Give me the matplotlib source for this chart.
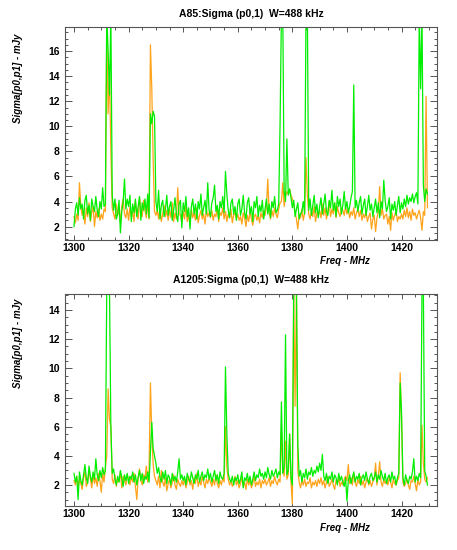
import numpy as np
import matplotlib
matplotlib.use("Agg")
import matplotlib.pyplot as plt
from matplotlib.ticker import MultipleLocator

# frequency grid (MHz), 0.5 MHz channels
freq = np.arange(1300.0, 1430.0, 0.5)

# ---- A85 panel ----
a85_green = [
    2.0, 3.4, 3.9, 2.9, 4.3, 3.4, 3.8, 2.6, 4.1, 4.5, 3.0, 3.7, 2.5, 4.2, 3.6, 3.2, 4.4, 3.3, 2.8, 4.0,
    3.4, 5.1, 3.6, 3.8, 19.0, 16.0, 12.5, 19.0, 4.5, 3.3, 4.2, 2.6, 3.0, 4.1, 1.5, 3.2, 4.0, 5.8, 3.4, 4.2,
    3.6, 4.5, 2.4, 3.8, 3.1, 4.2, 2.8, 3.6, 4.4, 2.5, 3.9, 3.3, 4.2, 3.0, 4.6, 2.7, 11.0, 10.2, 11.2, 10.8,
    4.0, 3.2, 4.9, 2.6, 3.7, 4.1, 2.8, 3.4, 4.5, 2.9, 3.6, 4.0, 2.5, 3.3, 4.3, 3.0, 2.4, 3.8, 4.1, 1.9,
    3.9, 3.2, 4.4, 2.8, 3.5, 1.8, 3.6, 4.2, 3.0, 3.8, 2.6, 4.0, 3.4, 4.6, 2.9, 3.5, 4.1, 3.0, 5.5, 3.3,
    2.8, 3.9, 4.3, 5.3, 3.2, 3.7, 2.6, 4.0, 3.5, 4.4, 3.1, 6.4, 4.6, 3.3, 2.7, 3.9, 4.2, 3.0, 3.6, 2.5,
    3.8, 4.2, 2.9, 3.4, 4.5, 3.1, 2.6, 3.9, 4.3, 3.0, 3.6, 2.4, 4.0, 3.5, 4.4, 2.8, 3.7, 3.2, 4.1, 2.6,
    3.4, 4.2, 3.0, 3.8, 2.7, 4.0, 3.5, 4.4, 3.1, 3.3, 3.8, 10.2, 19.0, 19.0, 4.8, 4.0, 9.0, 4.5, 5.0, 4.3,
    3.5, 4.1, 2.8, 3.4, 3.9, 2.6, 3.0, 3.2, 4.0, 3.0, 19.0, 19.0, 3.3, 4.2, 2.9, 3.7, 4.5, 3.1, 3.8, 2.7,
    3.6, 4.3, 3.0, 3.8, 4.6, 3.2, 2.9, 4.1, 3.5, 4.9, 3.3, 3.9, 2.8, 4.4, 3.6, 4.2, 3.0, 3.7, 4.8, 3.4,
    4.0, 3.1, 3.6, 4.3, 4.8, 13.3, 3.5, 4.1, 3.2, 3.9, 4.4, 3.0, 3.7, 4.2, 2.9, 3.6, 4.5, 3.3, 3.8, 2.8,
    3.5, 4.2, 3.1, 3.9, 2.7, 4.0, 3.4, 5.7, 4.1, 3.2, 3.6, 4.3, 2.6, 3.8, 3.3, 4.0, 2.9, 3.7, 4.4, 3.1,
    3.9, 3.4, 4.2, 3.6, 4.5, 3.8, 4.3, 4.0, 4.6, 3.9, 4.4, 4.7, 3.8, 19.0, 13.0, 19.0, 5.3, 4.0, 5.0, 4.6,
]
a85_orange = [
    2.8, 2.3, 3.0, 2.5, 5.5, 3.6, 2.9, 3.3, 2.2, 3.5, 2.8, 3.9, 2.4, 3.1, 3.6, 2.0, 3.2, 2.7, 3.4, 2.5,
    3.0, 2.6, 3.4, 3.2, 17.7, 11.0, 14.2, 8.0, 3.5, 3.0, 2.6, 3.8, 2.9, 3.3, 2.4, 3.6, 4.2, 3.0, 2.7, 3.4,
    2.5, 3.6, 2.8, 3.2, 2.4, 4.0, 3.0, 2.6, 4.3, 3.4, 2.8, 4.1, 3.3, 2.7, 3.9, 2.6, 16.5, 13.0, 7.3, 3.2,
    2.9, 3.3, 2.6, 3.5, 2.4, 3.0, 3.7, 2.8, 3.3, 2.5, 3.4, 2.7, 3.9, 2.4, 3.1, 2.6, 5.1, 3.0, 2.9, 2.3,
    3.2, 2.6, 3.6, 2.4, 3.0, 2.2, 3.4, 2.7, 3.1, 2.5, 3.5, 2.3, 2.9, 3.3, 2.6, 3.0, 2.2, 3.4, 2.8, 3.1,
    2.7, 3.3, 2.5, 3.0, 2.8, 3.6, 2.4, 3.1, 2.9, 3.5, 2.6, 3.2, 2.4, 3.0, 2.7, 3.4, 2.3, 2.9, 3.1, 2.6,
    3.0, 2.5, 2.8, 2.2, 3.1, 2.7, 2.0, 2.9, 2.4, 3.2, 2.6, 2.1, 2.8, 3.0, 2.5, 2.9, 2.3, 3.1, 2.7, 3.3,
    2.9, 3.6, 5.8, 3.1, 2.6, 3.3, 2.8, 3.5, 3.0, 2.7, 3.4, 3.9, 4.0, 5.5, 3.6, 4.4, 4.8, 4.6, 5.0, 4.5,
    4.2, 3.8, 3.2, 2.6, 1.8, 3.0, 2.7, 3.4, 2.5, 3.1, 7.5, 4.5, 3.0, 2.6, 3.3, 2.8, 3.6, 2.4, 3.1, 2.9,
    3.3, 2.7, 3.8, 2.9, 3.5, 2.6, 3.2, 4.0, 2.8, 3.4, 3.0, 3.9, 2.7, 3.6, 3.1, 2.8, 3.5, 3.3, 2.9, 3.6,
    3.0, 3.4, 2.7, 3.2, 2.9, 3.5, 2.6, 3.1, 3.4, 2.8, 3.3, 2.5, 3.0, 2.7, 3.2, 2.4, 2.8, 3.1, 1.8, 2.6,
    2.9, 1.6, 2.7, 3.2, 5.2, 2.9, 3.4, 2.6, 2.9, 3.0, 2.2, 2.8, 1.7, 3.1, 2.5, 2.9, 3.3, 2.4, 2.8, 2.6,
    3.0, 2.6, 3.3, 2.8, 3.5, 2.7, 3.2, 2.5, 3.4, 2.9, 3.1, 2.6, 3.0, 3.3, 2.7, 1.7, 3.2, 2.9, 12.4, 3.5,
]

# ---- A1205 panel ----
a1205_green = [
    2.8, 2.2, 2.6, 1.0, 2.9, 2.3, 2.0, 2.7, 3.4, 2.5, 2.1, 3.3, 2.6, 2.2, 2.9, 2.4, 3.8, 2.7, 2.3, 3.0,
    2.5, 3.2, 2.7, 3.0, 15.5, 15.5, 15.5, 6.0, 2.8, 3.1, 2.4, 2.0, 2.6, 2.2, 3.0, 2.5, 1.9, 2.7, 2.3, 2.8,
    2.1, 2.6, 2.4, 2.9, 2.2, 2.7, 2.0, 2.5, 3.0, 2.3, 2.8, 2.1, 2.6, 2.4, 2.9, 2.2, 4.2, 6.3, 4.5, 4.0,
    3.5, 2.8, 3.2, 2.5, 2.2, 2.9, 2.4, 3.0, 2.1, 2.7, 2.5, 2.0, 2.8, 2.3, 2.6, 2.2, 2.9, 3.8, 2.4, 2.7,
    2.3, 2.6, 2.0, 2.8, 2.4, 2.2, 2.9, 2.5, 2.1, 2.7, 2.4, 3.0, 2.2, 2.6, 2.9, 2.3, 2.7, 2.5, 3.1, 2.4,
    2.8, 2.2, 2.6, 3.0, 2.3, 2.7, 2.1, 2.9, 2.5, 2.4, 2.8, 10.1, 5.5, 2.8, 2.4, 2.2, 2.6, 2.0, 2.5, 2.3,
    2.7, 2.1, 2.4, 2.9, 1.8, 2.5, 2.3, 2.8, 2.2, 2.6, 2.0, 2.4, 2.9, 2.3, 2.7, 2.5, 3.1, 2.6, 2.8, 2.4,
    2.9, 2.5, 3.2, 2.7, 2.4, 3.0, 2.6, 2.8, 3.1, 2.5, 2.9, 2.7, 7.7, 2.8, 3.2, 12.3, 2.7, 3.0, 5.5, 2.5,
    2.0, 15.5, 15.5, 15.5, 4.8, 2.6, 3.0, 2.2, 2.8, 2.5, 3.1, 2.4, 2.9, 2.7, 3.2, 2.6, 3.0, 2.8, 3.3, 2.9,
    3.5, 3.0, 4.1, 2.6, 2.3, 2.8, 2.1, 2.6, 2.4, 2.9, 2.2, 2.7, 2.5, 2.0, 2.8, 2.3, 2.6, 2.2, 1.9, 2.5,
    0.9, 2.3, 2.7, 2.1, 2.5, 2.9, 2.2, 2.6, 2.4, 2.8, 2.0, 2.5, 2.7, 2.3, 2.9, 2.4, 2.1, 2.6, 2.8, 2.3,
    2.5, 2.9, 2.2, 2.7, 2.4, 3.0, 2.6, 2.3, 2.8, 2.1, 2.5, 2.7, 2.2, 2.9, 2.4, 2.6, 2.0, 2.5, 2.8, 9.0,
    7.0, 2.5, 2.0, 2.7, 2.3, 2.1, 2.6, 2.4, 2.9, 3.8, 2.2, 2.6, 2.3, 2.8, 2.5, 15.5, 15.5, 3.0, 2.6, 2.0,
]
a1205_orange = [
    2.3, 2.0, 2.6, 1.8, 2.4, 2.1, 1.7, 2.5, 2.9, 1.9, 2.2, 3.0, 2.4, 1.8, 2.7, 2.1, 2.5, 1.9, 2.8, 2.3,
    1.5, 2.8, 2.2, 3.2, 4.0, 8.6, 6.5, 6.0, 2.4, 2.1, 2.7, 1.9, 2.5, 2.2, 2.9, 1.8, 2.6, 2.3, 2.0, 2.7,
    2.4, 2.0, 2.6, 2.2, 2.8, 1.9, 1.0, 2.5, 3.1, 2.3, 2.0, 2.7, 2.4, 3.3, 2.2, 3.0, 9.0, 5.5, 3.4, 2.6,
    2.3, 2.0, 2.6, 1.8, 3.0, 2.2, 1.9, 2.5, 1.6, 2.1, 2.4, 1.8, 2.2, 2.7, 2.0, 1.7, 2.4, 2.1, 1.9, 2.3,
    2.0, 2.4, 1.8, 2.2, 2.6, 2.0, 2.3, 1.7, 2.5, 2.1, 2.8, 1.9, 2.3, 2.0, 2.6, 2.2, 1.8, 2.4, 2.1, 2.5,
    2.2, 1.9, 2.4, 2.0, 2.7, 2.1, 1.8, 2.3, 2.0, 2.5, 2.2, 6.0, 3.2, 2.4, 2.0, 2.3, 1.9, 2.2, 2.6, 2.0,
    2.3, 1.8, 2.1, 2.5, 1.9, 2.2, 1.7, 2.4, 2.0, 2.3, 1.8, 2.1, 2.6, 1.9, 2.2, 2.0, 2.4, 1.8, 2.3, 2.1,
    2.4, 2.0, 2.2, 2.5, 1.9, 2.3, 2.1, 2.6, 2.2, 2.0, 2.4, 2.2, 5.8, 3.0, 2.6, 5.0, 2.4, 2.7, 5.5, 2.2,
    0.7, 15.5, 7.4, 15.5, 3.0, 2.2, 1.8, 2.3, 2.0, 2.4, 1.9, 2.2, 2.1, 2.5, 1.8, 2.2, 2.0, 2.3, 1.9, 2.4,
    2.1, 2.5, 2.0, 2.3, 1.8, 2.2, 2.6, 1.9, 2.1, 2.4, 2.0, 1.7, 2.3, 2.1, 2.5, 1.9, 2.2, 2.0, 2.4, 2.6,
    2.3, 3.4, 2.1, 2.5, 2.0, 2.8, 2.2, 1.9, 2.4, 2.1, 2.6, 2.0, 2.3, 1.8, 2.2, 2.5, 2.0, 2.3, 1.9, 2.2,
    2.4, 3.5, 2.0, 2.6, 3.6, 2.2, 1.9, 2.4, 2.1, 2.3, 2.0, 2.5, 2.2, 1.8, 2.4, 2.1, 2.0, 2.3, 2.5, 9.7,
    6.6, 2.2, 1.9, 2.1, 2.4, 2.0, 1.7, 2.3, 2.2, 2.6, 2.1, 1.6, 2.4, 2.0, 2.2, 6.1, 3.5, 2.4, 2.2, 2.5,
]

titles = ["A85:Sigma (p0,1)  W=488 kHz", "A1205:Sigma (p0,1)  W=488 kHz"]
ylabel = "Sigma[p0,p1] - mJy"
xlabel = "Freq - MHz"

plt.rcParams['font.family'] = ['Liberation Sans', 'DejaVu Sans']

W, H = 457, 550
fig = plt.figure(figsize=(W / 100, H / 100), dpi=100)

ORANGE = "#FFA31A"
GREEN = "#00EE00"
FRAME = "#555555"

panels = [
    dict(green=a85_green, orange=a85_orange, top=27.3, bot=240, ylim=(0.93, 17.9),
         major=2, minor=0.5, ylab_c=78, title_y=14, xlab_y=261),
    dict(green=a1205_green, orange=a1205_orange, top=294, bot=506, ylim=(0.56, 15.1),
         major=2, minor=0.5, ylab_c=343, title_y=280, xlab_y=528),
]

for p, title in zip(panels, titles):
    left, right = 65, 437
    ax = fig.add_axes([left / W, 1 - p["bot"] / H, (right - left) / W, (p["bot"] - p["top"]) / H])
    ax.plot(freq, p["orange"], color=ORANGE, lw=0.9)
    ax.plot(freq, p["green"], color=GREEN, lw=0.9)
    ax.set_xlim(1296.7, 1433.0)
    ax.set_ylim(*p["ylim"])
    ax.xaxis.set_major_locator(MultipleLocator(20))
    ax.xaxis.set_minor_locator(MultipleLocator(5))
    ax.yaxis.set_major_locator(MultipleLocator(p["major"]))
    ax.yaxis.set_minor_locator(MultipleLocator(p["minor"]))
    ax.tick_params(axis='both', which='both', direction='in', top=True, right=True,
                   color=FRAME, width=0.7)
    ax.tick_params(axis='x', which='major', length=3.5, pad=2.5)
    ax.tick_params(axis='x', which='minor', length=2.0)
    ax.tick_params(axis='y', which='major', length=5.0, pad=4)
    ax.tick_params(axis='y', which='minor', length=2.5)
    for lab in ax.get_xticklabels() + ax.get_yticklabels():
        lab.set_fontweight('bold')
        lab.set_fontsize(7.5)
    for s in ax.spines.values():
        s.set_color(FRAME)
        s.set_linewidth(0.8)
    fig.text(251 / W, 1 - p["title_y"] / H, title, ha='center', va='center',
             fontsize=7.5, fontweight='bold')
    fig.text(18 / W, 1 - p["ylab_c"] / H, ylabel, ha='center', va='center', rotation=90,
             fontsize=7, fontweight='bold', style='italic')
    fig.text(345 / W, 1 - p["xlab_y"] / H, xlabel, ha='center', va='center',
             fontsize=7, fontweight='bold', style='italic')

fig.savefig("out.png", dpi=100)
